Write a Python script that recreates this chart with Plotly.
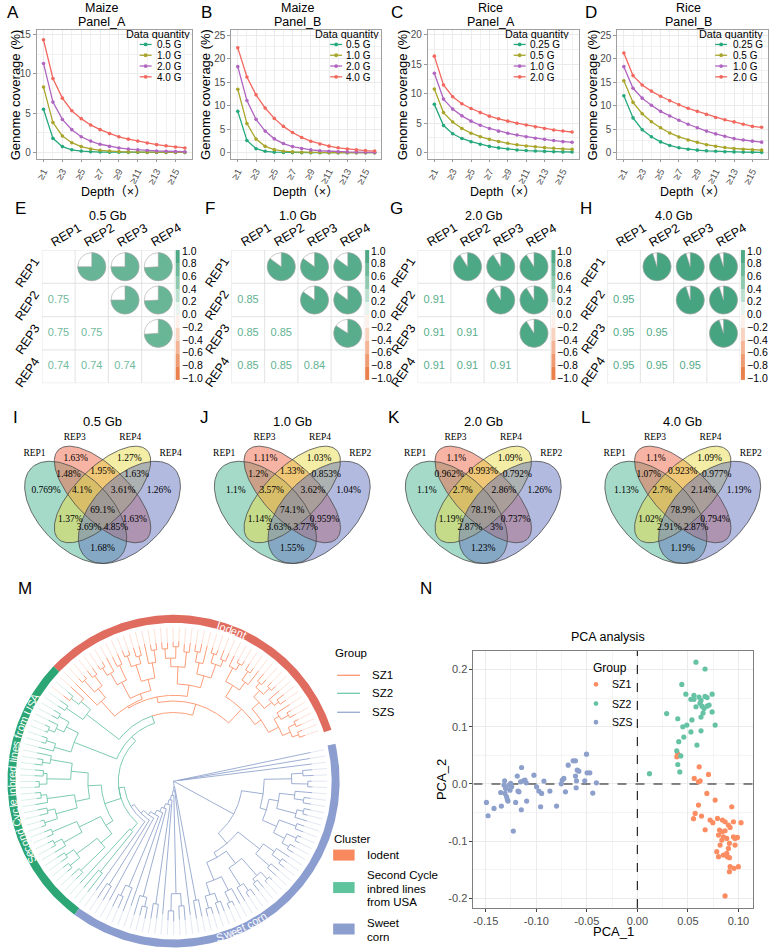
import numpy as np
import plotly.graph_objects as go

W, H = 779, 949
SANS = "Arial, Liberation Sans, Noto Sans CJK SC, sans-serif"
SERIF = "Times New Roman, Liberation Serif, serif"

# ====================== DATA: A-D genome coverage ======================
depth = list(range(1, 17))
depth_tickvals = [1, 3, 5, 7, 9, 11, 13, 15]
depth_ticktext = ["≥1", "≥3", "≥5", "≥7", "≥9", "≥11", "≥13", "≥15"]
depth_minor = [2, 4, 6, 8, 10, 12, 14, 16]

maize_qty = ["0.5 G", "1.0 G", "2.0 G", "4.0 G"]
rice_qty = ["0.25 G", "0.5 G", "1.0 G", "2.0 G"]

maizeA_05 = [5.5, 1.8, 0.75, 0.35, 0.18, 0.1, 0.06, 0.04, 0.03, 0.02, 0.02, 0.01, 0.01, 0.01, 0.01, 0.01]
maizeA_10 = [8.3, 3.8, 2.1, 1.25, 0.75, 0.45, 0.28, 0.18, 0.12, 0.08, 0.06, 0.04, 0.03, 0.02, 0.02, 0.02]
maizeA_20 = [11.3, 6.4, 4.2, 2.9, 2.0, 1.45, 1.05, 0.78, 0.58, 0.44, 0.34, 0.26, 0.2, 0.16, 0.13, 0.1]
maizeA_40 = [14.3, 9.4, 6.9, 5.3, 4.3, 3.5, 2.9, 2.4, 2.0, 1.7, 1.45, 1.2, 1.0, 0.85, 0.7, 0.58]

maizeB_05 = [8.8, 2.6, 0.85, 0.3, 0.12, 0.06, 0.03, 0.02, 0.01, 0.01, 0.01, 0.01, 0.01, 0.0, 0.0, 0.0]
maizeB_10 = [13.5, 6.2, 2.9, 1.35, 0.65, 0.32, 0.17, 0.1, 0.06, 0.04, 0.03, 0.02, 0.02, 0.01, 0.01, 0.01]
maizeB_20 = [18.3, 11.1, 7.1, 4.6, 2.95, 1.95, 1.3, 0.88, 0.6, 0.42, 0.3, 0.22, 0.17, 0.13, 0.1, 0.08]
maizeB_40 = [22.3, 16.1, 12.3, 9.5, 7.3, 5.6, 4.3, 3.25, 2.45, 1.85, 1.4, 1.05, 0.8, 0.6, 0.45, 0.35]

riceA_025 = [8.2, 4.6, 3.2, 2.4, 1.85, 1.4, 1.05, 0.8, 0.6, 0.45, 0.35, 0.27, 0.2, 0.15, 0.12, 0.1]
riceA_05 = [10.8, 6.8, 5.2, 4.1, 3.3, 2.7, 2.25, 1.88, 1.58, 1.33, 1.13, 0.98, 0.85, 0.73, 0.62, 0.56]
riceA_10 = [13.5, 9.1, 7.4, 6.25, 5.35, 4.65, 4.1, 3.65, 3.3, 2.98, 2.7, 2.45, 2.25, 2.05, 1.86, 1.75]
riceA_20 = [16.4, 11.5, 9.5, 8.3, 7.5, 6.8, 6.2, 5.75, 5.35, 5.0, 4.7, 4.38, 4.1, 3.85, 3.66, 3.5]

riceB_025 = [12.1, 7.4, 4.9, 3.4, 2.3, 1.55, 1.05, 0.75, 0.55, 0.4, 0.3, 0.22, 0.17, 0.13, 0.1, 0.08]
riceB_05 = [15.3, 10.7, 8.3, 6.6, 5.3, 4.2, 3.35, 2.7, 2.2, 1.7, 1.35, 1.1, 0.9, 0.75, 0.63, 0.55]
riceB_10 = [18.3, 13.7, 11.6, 10.1, 8.8, 7.8, 6.9, 6.05, 5.3, 4.6, 4.0, 3.5, 3.0, 2.7, 2.46, 2.25]
riceB_20 = [21.2, 16.4, 14.4, 13.1, 12.0, 11.05, 10.2, 9.45, 8.8, 8.15, 7.5, 7.0, 6.55, 6.05, 5.6, 5.4]

# ====================== DATA: E-H correlations ======================
rep_labels = ["REP1", "REP2", "REP3", "REP4"]
corr_titles = ["0.5 Gb", "1.0 Gb", "2.0 Gb", "4.0 Gb"]
corr_05 = [[1, 0.75, 0.75, 0.74], [0.75, 1, 0.75, 0.74], [0.75, 0.75, 1, 0.74], [0.74, 0.74, 0.74, 1]]
corr_10 = [[1, 0.85, 0.85, 0.85], [0.85, 1, 0.85, 0.85], [0.85, 0.85, 1, 0.84], [0.85, 0.85, 0.84, 1]]
corr_20 = [[1, 0.91, 0.91, 0.91], [0.91, 1, 0.91, 0.91], [0.91, 0.91, 1, 0.91], [0.91, 0.91, 0.91, 1]]
corr_40 = [[1, 0.95, 0.95, 0.95], [0.95, 1, 0.95, 0.95], [0.95, 0.95, 1, 0.95], [0.95, 0.95, 0.95, 1]]
cbar_ticks = [1.0, 0.8, 0.6, 0.4, 0.2, 0.0, -0.2, -0.4, -0.6, -0.8, -1.0]

# ====================== DATA: I-L Venn ======================
venn_titles = ["0.5 Gb", "1.0 Gb", "2.0 Gb", "4.0 Gb"]
venn_sets_I = ["REP1", "REP3", "REP4", "REP4"]
venn_sets_JKL = ["REP1", "REP3", "REP4", "REP2"]
# regions: 3, 4, 1, 2, 13, 34, 42, 134, 342, 1342, 14, 142, 132, 32, 12
venn_I = ["1.63%", "1.27%", "0.769%", "1.26%", "1.48%", "1.95%", "1.63%", "4.1%", "3.61%", "69.1%", "1.37%", "3.69%", "4.85%", "1.63%", "1.68%"]
venn_J = ["1.11%", "1.03%", "1.1%", "1.04%", "1.2%", "1.33%", "0.853%", "3.57%", "3.62%", "74.1%", "1.14%", "3.63%", "3.77%", "0.959%", "1.55%"]
venn_K = ["1.1%", "1.09%", "1.1%", "1.26%", "0.962%", "0.993%", "0.792%", "2.7%", "2.86%", "78.1%", "1.19%", "2.87%", "3%", "0.737%", "1.23%"]
venn_L = ["1.1%", "1.09%", "1.13%", "1.19%", "1.07%", "0.923%", "0.977%", "2.7%", "2.14%", "78.9%", "1.02%", "2.91%", "2.87%", "0.794%", "1.19%"]

# ====================== DATA: M tree (leaf group + node radius) ======================
tA = "(((a146,a145)140,(a147,a146)141)133,((a146,a144)139,a146)130)124"
tB = "(((a145,a147)138,a146)132,((a146,a146)140,(a144,a147)137)131)122"
tC = "((a146,(a145,a147)139)128,((a146,a145)141,a146)134)118"
tD = "(((a146,a147)137,(a145,a146)140)130,(a146,(a147,a145)138)127)115"
tE = "((a146,a144)136,((a147,a146)141,(a145,a146)139)129)120"
tF = "(((a146,a145)139,a147)126,((a146,a146)136,(a145,a147)140)128)110"
tG = "((a146,a145)134,(a147,(a146,a145)140)131)117"
tH = "(((a146,a147)138,(a145,a146)141)125,a145)113"
tOrange = f"((({tA},{tB})112,{tC})104,(({tD},{tE})102,(({tF},{tG})98,{tH})92)90)84"
tM = "((a146,(b145,a146)138)128,(b146,b145)136)115"
tG1 = "(((b146,b145)138,(b146,(b147,b145)142)135)126,((b146,b145)140,b146)130)112"
tG2 = "((b146,(b145,b147)139)131,((b146,b146)137,(b145,b146)141)133)108"
tG3 = "(((b146,b145)140,b147)134,((b146,b145)136,(b146,b147)142)128)105"
tG4 = "((b146,b145)138,((b147,b146)141,b145)132)110"
tG5 = "(((b146,b145)137,(b147,b146)140)127,(b146,b145)135)100"
tG6 = "(b145,(b146,b147)122)68"
tOG = f"((({tOrange},{tM})72,{tG1})64,(({tG2},{tG3})90,({tG4},{tG5})85)76,{tG6})58"
ladder_items = ["c140", "(c146,c145)128", "c142", "((c146,c145)132,c146)120", "c138",
                "(c146,(c145,c147)135)125", "(c146,c145)130", "c140",
                "((c146,c147)136,(c145,c146)131)118", "c141", "(c146,c145)127"]
ladder_radii = [52, 48, 44, 40, 35, 30, 25, 20, 15, 10, 6]
tBL1 = "(((c146,c145)138,(c147,c146)135)125,((c146,c145)140,c146)128)112"
tBL2 = "((c146,(c145,c147)139)130,((c146,c146)136,(c145,c146)142)132)108"
tBL3 = "((c146,c145)134,((c147,c146)140,c145)129)115"
tBU1 = "(((c146,c145)139,(c147,c146)142)131,(c146,c145)137)118"
tBU2 = "((c146,(c145,c147)140)133,((c146,c145)138,c146)128)112"
tBU3 = "((c146,c145)141,(c147,c146)136)124"
tBM = f"((({tBL1},{tBL2})92,{tBL3})86,(({tBU1},{tBU2})102,{tBU3})95)72"
tT3 = "((c146,c145)8,c147)4"
cluster_names = ["Iodent", "Second Cycle inbred lines from USA", "Sweet corn"]
cluster_sizes = [50, 41, 59]
group_names = ["SZ1", "SZ2", "SZS"]

# ====================== DATA: N PCA ======================
sz1_x = [0.0398, 0.0391, 0.0408, 0.0612, 0.0704, 0.0563, 0.0605, 0.0622, 0.0688, 0.0770, 0.0605, 0.0934,
         0.0572, 0.0635, 0.0556, 0.0720, 0.0747, 0.0793, 0.0842, 0.0868, 0.0901, 0.0951, 0.1026, 0.0671,
         0.0813, 0.0836, 0.0868, 0.0918, 0.0803, 0.0852, 0.0885, 0.0951, 0.0967, 0.0990, 0.0836, 0.0911,
         0.0819, 0.0901, 0.0967, 0.0786, 0.0803, 0.0852, 0.0885, 0.0891, 0.0911, 0.0918, 0.0957, 0.1000,
         0.0911, 0.0868]
sz1_y = [0.0533, 0.0474, 0.0504, 0.0300, 0.0166, 0.0096, 0.0038, 0.0055, -0.0166, -0.0282, -0.0370, -0.0399,
         -0.0515, -0.0562, -0.0608, -0.0632, -0.0678, -0.0603, -0.0632, -0.0661, -0.0719, -0.0661, -0.0678, -0.0801,
         -0.0806, -0.0836, -0.0818, -0.0760, -0.0894, -0.0923, -0.0952, -0.0923, -0.0952, -0.0935, -0.0981, -0.1039,
         -0.1068, -0.1127, -0.1068, -0.1185, -0.1272, -0.1243, -0.1214, -0.1272, -0.1290, -0.1447, -0.1476, -0.1447,
         -0.1534, -0.1959]
sz2_x = [0.058, 0.067, 0.044, 0.048, 0.056, 0.061, 0.053, 0.056, 0.063, 0.067, 0.069, 0.074, 0.058, 0.062,
         0.064, 0.066, 0.069, 0.071, 0.065, 0.074, 0.063, 0.029, 0.040, 0.054, 0.077, 0.049, 0.045, 0.053,
         0.063, 0.046, 0.041, 0.059, 0.039, 0.043, 0.040, 0.042, 0.012]
sz2_y = [0.213, 0.201, 0.174, 0.157, 0.155, 0.152, 0.148, 0.148, 0.146, 0.153, 0.151, 0.157, 0.135, 0.141,
         0.136, 0.132, 0.136, 0.138, 0.124, 0.126, 0.117, 0.123, 0.114, 0.112, 0.103, 0.103, 0.100, 0.091,
         0.093, 0.082, 0.074, 0.068, 0.058, 0.049, 0.034, 0.021, 0.018]
szs_x = [-0.1493, -0.1477, -0.1418, -0.1352, -0.1345, -0.1313, -0.1319, -0.1303, -0.1309, -0.1293, -0.1286,
         -0.1280, -0.1270, -0.1260, -0.1253, -0.1243, -0.1227, -0.1204, -0.1188, -0.1181, -0.1171, -0.1155,
         -0.1148, -0.1145, -0.1128, -0.1112, -0.1099, -0.1095, -0.1023, -0.0997, -0.0974, -0.0947, -0.0957,
         -0.0924, -0.0865, -0.0799, -0.0753, -0.0743, -0.0727, -0.0711, -0.0684, -0.0635, -0.0612, -0.0612,
         -0.0602, -0.0595, -0.0579, -0.0605, -0.0520, -0.0503, -0.0497, -0.0470, -0.0441, -0.0405]
szs_y = [-0.0323, -0.0556, -0.0428, -0.0149, -0.0387, 0.0055, -0.0020, -0.0079, -0.0166, -0.0224, -0.0271,
         -0.0300, -0.0020, -0.0108, 0.0009, -0.0050, -0.0824, -0.0323, 0.0137, -0.0125, -0.0137, 0.0038,
         -0.0451, 0.0288, 0.0055, 0.0067, 0.0020, -0.0300, 0.0154, -0.0050, -0.0125, -0.0166, -0.0399,
         0.0050, -0.0125, -0.0387, 0.0003, 0.0067, 0.0096, -0.0137, 0.0329, 0.0405, 0.0405, 0.0137,
         0.0055, 0.0242, 0.0224, -0.0067, 0.0055, 0.0521, 0.0195, 0.0195, -0.0160, 0.0020]

# ====================== helpers ======================
fig = go.Figure()
LAY = dict(width=W, height=H, margin=dict(l=0, r=0, t=0, b=0, pad=0), paper_bgcolor="white",
           plot_bgcolor="rgba(0,0,0,0)", showlegend=False, font=dict(family=SANS, size=11, color="#000"))
shapes, annots = [], []


def ax_ids(n):
    return ("x" if n == 1 else "x%d" % n), ("y" if n == 1 else "y%d" % n)


def set_axes(n, x0, x1, y0, y1, xr, yr, xkw=None, ykw=None):
    xa, ya = ax_ids(n)
    base = dict(showgrid=False, zeroline=False, showticklabels=False, ticks="", showline=False, fixedrange=True)
    xd = dict(base); xd.update(domain=[x0 / W, x1 / W], range=list(xr), anchor=ya)
    yd = dict(base); yd.update(domain=[1 - y1 / H, 1 - y0 / H], range=list(yr), anchor=xa)
    if xkw: xd.update(xkw)
    if ykw: yd.update(ykw)
    LAY["xaxis" + xa[1:]] = xd
    LAY["yaxis" + ya[1:]] = yd
    return xa, ya


def txt(x, y, s, size=11, color="#000", family=SANS, xanchor="center", yanchor="middle", angle=0,
        xref="paper", yref="paper", height=None):
    if xref == "paper":
        x = x / W
    if yref == "paper":
        y = 1 - y / H
    a = dict(x=x, y=y, xref=xref, yref=yref, text=s, showarrow=False, textangle=angle, borderpad=0,
             font=dict(size=size, color=color, family=family), xanchor=xanchor, yanchor=yanchor)
    if height:
        a["height"] = height
    annots.append(a)


def pline(x0, y0, x1, y1, color, width=1.0, dash=None):
    d = dict(type="line", xref="paper", yref="paper", x0=x0 / W, x1=x1 / W, y0=1 - y0 / H, y1=1 - y1 / H,
             line=dict(color=color, width=width))
    if dash: d["line"]["dash"] = dash
    shapes.append(d)


def prect(x0, y0, x1, y1, color):
    shapes.append(dict(type="rect", xref="paper", yref="paper", x0=x0 / W, x1=x1 / W, y0=1 - y1 / H, y1=1 - y0 / H,
                       fillcolor=color, line=dict(width=0)))


def pcircle(cx, cy, r, color):
    shapes.append(dict(type="circle", xref="paper", yref="paper", x0=(cx - r) / W, x1=(cx + r) / W,
                       y0=1 - (cy + r) / H, y1=1 - (cy - r) / H, fillcolor=color, line=dict(width=0)))


# ====================== A-D ======================
line_colors = ["#25a87c", "#a8a52a", "#b065c1", "#f2675e"]
line_panels = [
    dict(sp="Maize", pn="Panel_A", qty=maize_qty, ser=[maizeA_05, maizeA_10, maizeA_20, maizeA_40], box=(35, 190),
         yr=(-0.8, 15.55), let=("A", 11.5), tx=100, ytx=13, leg=(123, 138, 154)),
    dict(sp="Maize", pn="Panel_B", qty=maize_qty, ser=[maizeB_05, maizeB_10, maizeB_20, maizeB_40], box=(230, 380),
         yr=(-1.3, 26.1), let=("B", 205), tx=296, ytx=204, leg=(313, 329, 344)),
    dict(sp="Rice", pn="Panel_A", qty=rice_qty, ser=[riceA_025, riceA_05, riceA_10, riceA_20], box=(427, 578),
         yr=(-1.06, 20.85), let=("C", 396), tx=490, ytx=401, leg=(503, 513, 528)),
    dict(sp="Rice", pn="Panel_B", qty=rice_qty, ser=[riceB_025, riceB_05, riceB_10, riceB_20], box=(617, 768),
         yr=(-1.3, 26.1), let=("D", 591), tx=688, ytx=591.5, leg=(698, 715, 732)),
]
for k, p in enumerate(line_panels):
    n = k + 1
    x0, x1 = p["box"]
    xa, ya = set_axes(
        n, x0, x1, 29, 158, (0.3, 16.7), p["yr"],
        xkw=dict(showgrid=True, gridcolor="#ebebeb", gridwidth=0.8, tickmode="array", tickvals=depth_tickvals,
                 ticktext=depth_ticktext, showticklabels=True, tickangle=-62, tickfont=dict(size=9.5, color="#4d4d4d"),
                 ticks="outside", ticklen=2.5, tickcolor="#999", showline=True, mirror=True, linecolor="#a0a0a0",
                 linewidth=1, minor=dict(tickmode="array", tickvals=depth_minor, showgrid=True, gridcolor="#f1f1f1", ticks="")),
        ykw=dict(showgrid=True, gridcolor="#ebebeb", gridwidth=0.8, tick0=0, dtick=5, showticklabels=True,
                 tickfont=dict(size=10, color="#4d4d4d"), ticks="outside", ticklen=3, tickcolor="#999",
                 showline=True, mirror=True, linecolor="#a0a0a0", linewidth=1,
                 minor=dict(tick0=0, dtick=2.5, showgrid=True, gridcolor="#f1f1f1", ticks="")))
    for j, vals in enumerate(p["ser"]):
        fig.add_trace(go.Scatter(x=depth, y=vals, mode="lines+markers", xaxis=xa, yaxis=ya, hoverinfo="skip",
                                 line=dict(color=line_colors[j], width=1.3), marker=dict(color=line_colors[j], size=3.6)))
    txt(p["tx"], 7.5, p["sp"], size=12.5)
    txt(p["tx"], 21, p["pn"], size=12.5)
    txt((x0 + x1) / 2, 191, "Depth（×）", size=12.5)
    txt(p["ytx"], 93.5, "Genome coverage (%)", size=13, angle=-90)
    txt(p["let"][1], 12, p["let"][0], size=17)
    lx_t, lx_s, lx_l = p["leg"]
    txt(lx_t, 33.3, "Data quantity", size=10.8, xanchor="left", height=10)
    for j, q in enumerate(p["qty"]):
        yy = 43.5 + j * 10.8
        pline(lx_s, yy, lx_s + 12, yy, line_colors[j], 1.3)
        pcircle(lx_s + 6, yy, 1.9, line_colors[j])
        txt(lx_l, yy, q, size=10, xanchor="left", height=10)

# ====================== E-H correlation ======================
cs_vals = [-1.0, -0.5, 0.0, 0.5, 1.0]
cs_cols = ["#e8743b", "#f4b596", "#ffffff", "#8fcab0", "#3fa07b"]


def hex2rgb(h):
    return [int(h[i:i + 2], 16) for i in (1, 3, 5)]


def cscale(v):
    for i in range(len(cs_vals) - 1):
        if cs_vals[i] <= v <= cs_vals[i + 1]:
            t = (v - cs_vals[i]) / (cs_vals[i + 1] - cs_vals[i])
            a, b = hex2rgb(cs_cols[i]), hex2rgb(cs_cols[i + 1])
            c = [round(a[m] + t * (b[m] - a[m])) for m in range(3)]
            return "#%02x%02x%02x" % tuple(c)
    return cs_cols[-1]


def pie_path(cx, cy, R, frac, n=72):
    ts = np.linspace(0, 2 * np.pi * frac, n)
    pts = [(cx, cy)] + [(cx + R * np.sin(t), cy + R * np.cos(t)) for t in ts]
    return "M " + " L ".join("%.4f,%.4f" % pt for pt in pts) + " Z"


cell = 33.33
gy0 = 249.3
corr_sets = [corr_05, corr_10, corr_20, corr_40]
corr_gx = [40, 230, 416.7, 606.7]
corr_letters = [("E", 18.5), ("F", 209), ("G", 396), ("H", 586)]
for k in range(4):
    n = 5 + k
    gx0 = corr_gx[k]
    xa, ya = set_axes(n, gx0, gx0 + 4 * cell, gy0, gy0 + 4 * cell, (0.5, 4.5), (0.5, 4.5))
    C = corr_sets[k]
    for g in range(5):
        v = 0.5 + g
        shapes.append(dict(type="line", xref=xa, yref=ya, x0=v, x1=v, y0=0.5, y1=4.5, line=dict(color="#dcdcdc", width=0.8)))
        shapes.append(dict(type="line", xref=xa, yref=ya, x0=0.5, x1=4.5, y0=v, y1=v, line=dict(color="#dcdcdc", width=0.8)))
    tx, ty, tt, tc = [], [], [], []
    for i in range(4):
        for j in range(4):
            cx, cy = j + 1, 4 - i
            val = C[i][j]
            if j > i:
                R = 0.42
                shapes.append(dict(type="circle", xref=xa, yref=ya, x0=cx - R, x1=cx + R, y0=cy - R, y1=cy + R,
                                   fillcolor="white", line=dict(color="#a8a8a8", width=0.6)))
                shapes.append(dict(type="path", xref=xa, yref=ya, path=pie_path(cx, cy, R, val),
                                   fillcolor=cscale(val), line=dict(color="#a8a8a8", width=0.6)))
            elif j < i:
                tx.append(cx); ty.append(cy); tt.append("%.2f" % val); tc.append(cscale(val * 0.92))
    fig.add_trace(go.Scatter(x=tx, y=ty, text=tt, mode="text", xaxis=xa, yaxis=ya, hoverinfo="skip",
                             textfont=dict(size=11, color=tc, family=SANS)))
    for j, lab in enumerate(rep_labels):
        txt(gx0 + (j + 0.5) * cell + 8, 234.5, lab, size=12.5, angle=-31)
        txt(gx0 - 14, gy0 + (j + 0.5) * cell + 5.5, lab, size=12.5, angle=-56)
    txt(gx0 + 2 * cell, 215, corr_titles[k], size=12.5)
    txt(corr_letters[k][1], 208, corr_letters[k][0], size=17)
    bx0 = gx0 + 4 * cell + 0.8
    btop, bbot = gy0, gy0 + 130
    nb = 10
    for b in range(nb):
        v = 1.0 - (b + 0.5) * 2.0 / nb
        prect(bx0, btop + b * (bbot - btop) / nb, bx0 + 4, btop + (b + 1) * (bbot - btop) / nb, cscale(v))
    for t_i, tv in enumerate(cbar_ticks):
        yy = 250 + t_i * 12.7
        lab = ("%.1f" % tv).replace("-", "−")
        txt(bx0 + 5, yy, lab, size=10.5, xanchor="left", height=12)

# ====================== I-L Venn ======================
venn_centers = [100.8, 291, 482.5, 682.5]
vscale = 179.5
venn_vals = [venn_I, venn_J, venn_K, venn_L]
venn_letters = [("I", 13.5), ("J", 203), ("K", 393), ("L", 585)]
ell_params = [(0.35, 0.47, 0.35, 0.20, 135), (0.50, 0.57, 0.35, 0.15, 135),
              (0.50, 0.57, 0.35, 0.15, 45), (0.65, 0.47, 0.35, 0.20, 45)]
ell_fill = ["rgba(75,181,145,0.5)", "rgba(239,103,71,0.5)", "rgba(231,219,75,0.5)", "rgba(101,117,191,0.5)"]
reg_u = [0.35, 0.65, 0.185, 0.815, 0.31, 0.5, 0.69, 0.385, 0.615, 0.5, 0.32, 0.425, 0.575, 0.68, 0.5]
reg_v = [0.77, 0.77, 0.59, 0.59, 0.68, 0.695, 0.68, 0.59, 0.59, 0.48, 0.43, 0.385, 0.385, 0.43, 0.27]
cat_u = [0.12, 0.345, 0.655, 0.88]
cat_v = [0.80, 0.885, 0.885, 0.80]
vy_top = 445.7 - (1.0 - 0.839) * vscale
for k in range(4):
    n = 9 + k
    c = venn_centers[k]
    xa, ya = set_axes(n, c - vscale / 2, c + vscale / 2, vy_top, vy_top + 0.85 * vscale, (0, 1), (0.15, 1.0))
    t = np.linspace(0, 2 * np.pi, 160)
    outl = []
    for (ex, ey, a, b, ang), fc in zip(ell_params, ell_fill):
        ca, sa = np.cos(np.radians(ang)), np.sin(np.radians(ang))
        xs = ex + a * np.cos(t) * ca - b * np.sin(t) * sa
        ys = ey + a * np.cos(t) * sa + b * np.sin(t) * ca
        fig.add_trace(go.Scatter(x=xs, y=ys, mode="lines", fill="toself", fillcolor=fc, line=dict(width=0),
                                 xaxis=xa, yaxis=ya, hoverinfo="skip"))
        outl.append((xs, ys))
    for xs, ys in outl:
        fig.add_trace(go.Scatter(x=xs, y=ys, mode="lines", line=dict(width=0.8, color="#4a4a4a"),
                                 xaxis=xa, yaxis=ya, hoverinfo="skip"))
    fig.add_trace(go.Scatter(x=reg_u, y=reg_v, text=venn_vals[k], mode="text", xaxis=xa, yaxis=ya, hoverinfo="skip",
                             textfont=dict(size=9.5, color="#000", family=SERIF)))
    sets = venn_sets_I if k == 0 else venn_sets_JKL
    fig.add_trace(go.Scatter(x=cat_u, y=cat_v, text=sets, mode="text", xaxis=xa, yaxis=ya, hoverinfo="skip",
                             textfont=dict(size=9.5, color="#000", family=SERIF)))
    txt(0.5, 0.975, venn_titles[k], size=13, xref=xa, yref=ya)
    txt(venn_letters[k][1], 417, venn_letters[k][0], size=17)

# ====================== M tree ======================
TREE_SCALE = 0.955
tree_col = {"a": "#fc8d62", "b": "#66c2a5", "c": "#8da0cb"}


def parse_tree(s):
    pos = [0]

    def num():
        st = pos[0]
        while pos[0] < len(s) and (s[pos[0]].isdigit() or s[pos[0]] == "."):
            pos[0] += 1
        return float(s[st:pos[0]]) * TREE_SCALE

    def node():
        if s[pos[0]] == "(":
            pos[0] += 1
            ch = [node()]
            while s[pos[0]] == ",":
                pos[0] += 1
                ch.append(node())
            pos[0] += 1
            return {"ch": ch, "r": num()}
        g = s[pos[0]]
        pos[0] += 1
        return {"g": g, "r": num()}

    return node()


X = tOG
for item, rr in zip(ladder_items, ladder_radii):
    X = f"({X},{item}){rr}"
root = parse_tree(f"({X},{tBM},{tT3})0")

leaves = []


def collect(nd):
    if "g" in nd:
        leaves.append(nd)
        nd["set"] = {nd["g"]}
    else:
        s = set()
        for c in nd["ch"]:
            collect(c)
            s |= c["set"]
        nd["set"] = s


collect(root)
NL = len(leaves)
start_deg, span_deg = 18.0, 355.0
step = span_deg / NL
for i, lf in enumerate(leaves):
    lf["a"] = start_deg + (i + 0.5) * step


def set_angle(nd):
    if "g" in nd:
        return nd["a"]
    nd["a"] = float(np.mean([set_angle(c) for c in nd["ch"]]))
    return nd["a"]


set_angle(root)


def node_color(nd):
    s = nd["set"]
    if len(s) == 1:
        return next(iter(s))
    return "c" if "c" in s else "b"


segs = {"a": ([], []), "b": ([], []), "c": ([], [])}


def add_poly(key, angs, rads):
    xs, ys = segs[key]
    th = np.radians(angs)
    xs.extend(list(rads * np.cos(th)) + [None])
    ys.extend(list(rads * np.sin(th)) + [None])


def draw(nd):
    if "g" in nd:
        return
    for c in nd["ch"]:
        key = node_color(c)
        a0, a1 = nd["a"], c["a"]
        nseg = max(2, int(abs(a1 - a0) / 0.8) + 2)
        arc_a = np.linspace(a0, a1, nseg)
        ang = np.concatenate([arc_a, [a1]])
        rad = np.concatenate([np.full(nseg, nd["r"]), [c["r"]]])
        add_poly(key, ang, rad)
        draw(c)


draw(root)
xa, ya = set_axes(13, 0, 420, 600, 949, (-172, 248), (-168, 181))
R_TIP = 154
for key in ["a", "b", "c"]:
    fx_, fy_ = [], []
    for lf in leaves:
        if lf["g"] == key:
            th = np.radians(lf["a"])
            fx_ += [lf["r"] * np.cos(th), R_TIP * np.cos(th), None]
            fy_ += [lf["r"] * np.sin(th), R_TIP * np.sin(th), None]
    fig.add_trace(go.Scatter(x=fx_, y=fy_, mode="lines", line=dict(color=tree_col[key], width=0.7), opacity=0.35,
                             xaxis=xa, yaxis=ya, hoverinfo="skip"))
for key in ["b", "c", "a"]:
    xs, ys = segs[key]
    fig.add_trace(go.Scatter(x=xs, y=ys, mode="lines", line=dict(color=tree_col[key], width=0.85),
                             xaxis=xa, yaxis=ya, hoverinfo="skip"))

ring_cols = ["#e06b5f", "#2ba674", "#8c9dd0"]
r_in, r_out = 158.5, 166.5
idx = 0
for ci, sz in enumerate(cluster_sizes):
    a0 = start_deg + idx * step
    a1 = start_deg + (idx + sz) * step
    idx += sz
    aa = np.radians(np.linspace(a0, a1, 200))
    xs = np.concatenate([r_out * np.cos(aa), r_in * np.cos(aa[::-1])])
    ys = np.concatenate([r_out * np.sin(aa), r_in * np.sin(aa[::-1])])
    fig.add_trace(go.Scatter(x=xs, y=ys, mode="lines", fill="toself", fillcolor=ring_cols[ci], line=dict(width=0),
                             xaxis=xa, yaxis=ya, hoverinfo="skip"))

CW = {"I": .278, "o": .556, "d": .556, "e": .556, "n": .556, "t": .278, "S": .667, "c": .5, " ": .278, "C": .722,
      "y": .5, "l": .222, "i": .222, "b": .556, "r": .333, "s": .5, "f": .278, "m": .833, "U": .722, "A": .667, "w": .722}


def ring_text(label, center_deg, mode, r=162.3, size=11):
    ws = [CW.get(ch, 0.556) * size for ch in label]
    total = sum(ws)
    s = 0.0
    for ch, w in zip(label, ws):
        mid = s + w / 2 - total / 2
        s += w
        if ch == " ":
            continue
        d = np.degrees(mid / r)
        if mode == "cw":
            phi = center_deg - d
            ang = 90 - phi
        else:
            phi = center_deg + d
            ang = -(phi + 90)
        while ang > 180: ang -= 360
        while ang < -180: ang += 360
        th = np.radians(phi)
        txt(r * np.cos(th), r * np.sin(th), ch, size=size, color="white", angle=ang, xref=xa, yref=ya)


ring_text(cluster_names[0], 69.0, "cw")
ring_text(cluster_names[1], 179.0, "cw")
ring_text(cluster_names[2], -65.0, "ccw")

txt(23.5, 588.5, "M", size=17)
txt(333, 653, "Group", size=11.5, xanchor="left")
for j, (g, key) in enumerate(zip(group_names, ["a", "b", "c"])):
    yy = [675, 693, 712][j]
    pline(336, yy, 359, yy, tree_col[key], 1.2)
    txt(370, yy, g, size=11.5, xanchor="left")
txt(332, 838.5, "Cluster", size=11.5, xanchor="left")
leg_sw = ["#f8895f", "#5fc39e", "#8b9ecd"]
prect(332, 849.5, 353.5, 860.5, leg_sw[0])
txt(365, 855, "Iodent", size=11.5, xanchor="left")
prect(332, 882, 353.5, 893, leg_sw[1])
txt(365, 874.5, "Second Cycle", size=11.5, xanchor="left", height=13)
txt(365, 888, "inbred lines", size=11.5, xanchor="left", height=13)
txt(365, 901, "from USA", size=11.5, xanchor="left", height=13)
prect(332, 923.5, 353.5, 934.5, leg_sw[2])
txt(365, 922.5, "Sweet", size=11.5, xanchor="left", height=13)
txt(365, 936, "corn", size=11.5, xanchor="left", height=13)

# ====================== N PCA ======================
xa, ya = set_axes(
    14, 472.7, 753, 650.7, 908, (-0.1621, 0.1145), (-0.217, 0.2325),
    xkw=dict(showgrid=True, gridcolor="#ebebeb", tickmode="array", tickvals=[-0.15, -0.1, -0.05, 0, 0.05, 0.1],
             ticktext=["-0.15", "-0.10", "-0.05", "0.00", "0.05", "0.10"], showticklabels=True, ticks="outside",
             ticklen=3, tickcolor="#444", tickfont=dict(size=11, color="#4d4d4d"), showline=True, mirror=True,
             linecolor="#7f7f7f", linewidth=1,
             minor=dict(tickmode="array", tickvals=[-0.125, -0.075, -0.025, 0.025, 0.075], showgrid=True, gridcolor="#f4f4f4", ticks="")),
    ykw=dict(showgrid=True, gridcolor="#ebebeb", tickmode="array", tickvals=[-0.2, -0.1, 0, 0.1, 0.2],
             ticktext=["-0.2", "-0.1", "0.0", "0.1", "0.2"], showticklabels=True, ticks="outside", ticklen=3,
             tickcolor="#444", tickfont=dict(size=11, color="#4d4d4d"), showline=True, mirror=True,
             linecolor="#7f7f7f", linewidth=1,
             minor=dict(tickmode="array", tickvals=[-0.15, -0.05, 0.05, 0.15], showgrid=True, gridcolor="#f4f4f4", ticks="")))
shapes.append(dict(type="line", xref=xa, yref=ya, x0=0, x1=0, y0=-0.217, y1=0.2325, layer="between",
                   line=dict(color="#111", width=1.1, dash="dash")))
shapes.append(dict(type="line", xref=xa, yref=ya, x0=-0.1621, x1=0.1145, y0=0, y1=0, layer="between",
                   line=dict(color="#111", width=1.1, dash="dash")))
pca_cols = ["#fc8d62", "#66c2a5", "#8da0cb"]
for (px_, py_), col in zip([(sz1_x, sz1_y), (sz2_x, sz2_y), (szs_x, szs_y)], pca_cols):
    fig.add_trace(go.Scatter(x=px_, y=py_, mode="markers", marker=dict(color=col, size=5.2), xaxis=xa, yaxis=ya,
                             hoverinfo="skip"))
txt(608, 637, "PCA analysis", size=12.5)
txt(613, 931, "PCA_1", size=13)
txt(440, 779, "PCA_2", size=13, angle=-90)
txt(425, 588, "N", size=17)
txt(591.5, 667.5, "Group", size=12, xanchor="left")
for j, g in enumerate(group_names):
    yy = [684, 703.3, 722][j]
    pcircle(595.5, yy, 2.4, pca_cols[j])
    txt(610.5, yy, g, size=10.5, xanchor="left")

LAY["shapes"] = shapes
LAY["annotations"] = annots
fig.update_layout(**LAY)
fig.write_html("out.html")
